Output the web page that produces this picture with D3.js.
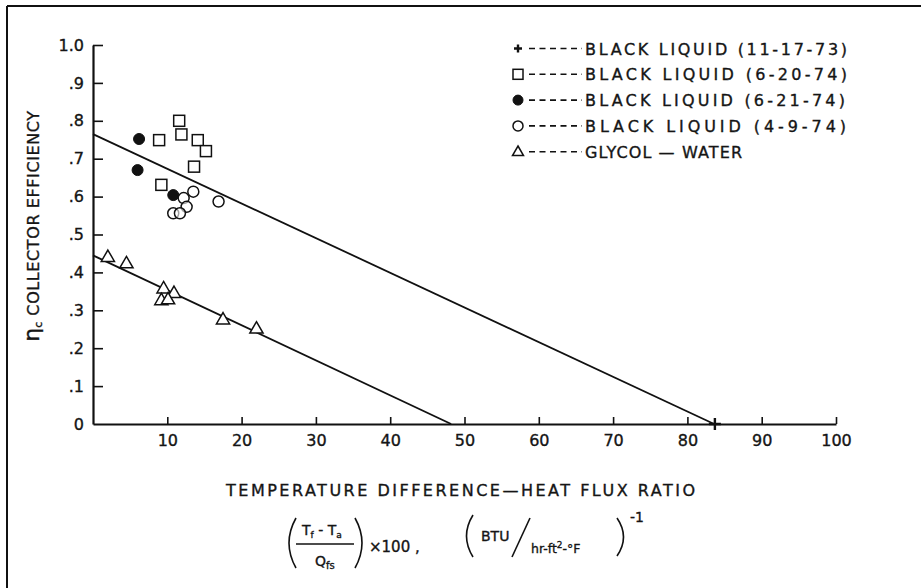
<!DOCTYPE html>
<html>
<head>
<meta charset="utf-8">
<script src="https://cdn.jsdelivr.net/npm/d3@7"></script>
<style>
  html, body { margin: 0; padding: 0; background: #fff; }
  svg { display: block; }
  text { font-family: "DejaVu Sans", "Liberation Sans", Arial, sans-serif; fill: #151515;
         stroke: #151515; stroke-width: 0.35px; }
</style>
</head>
<body>
<div id="chart"></div>
<script>
// Collector efficiency vs. temperature difference / heat flux ratio

// Axis ticks
const xTicks = [0, 10, 20, 30, 40, 50, 60, 70, 80, 90, 100];
const xTickLabels = ["", "10", "20", "30", "40", "50", "60", "70", "80", "90", "100"];
const yTicks = [0, 0.1, 0.2, 0.3, 0.4, 0.5, 0.6, 0.7, 0.8, 0.9, 1.0];
const yTickLabels = ["0", ".1", ".2", ".3", ".4", ".5", ".6", ".7", ".8", ".9", "1.0"];

// Measured points [ratio, efficiency]
const blackLiquid_11_17_73 = [[83.7, 0.0]];
const blackLiquid_6_20_74 = [[11.6, 0.800], [8.9, 0.749], [11.9, 0.764], [14.1, 0.749],
                             [15.2, 0.720], [13.6, 0.679], [9.2, 0.631]];
const blackLiquid_6_21_74 = [[6.2, 0.752], [6.0, 0.670], [10.8, 0.604]];
const blackLiquid_4_9_74 = [[13.5, 0.613], [16.9, 0.587], [12.2, 0.596], [12.6, 0.573],
                            [10.8, 0.556], [11.7, 0.556]];
const glycolWater = [[2.0, 0.441], [4.5, 0.424], [9.5, 0.358], [10.9, 0.346],
                     [9.2, 0.327], [10.1, 0.329], [17.5, 0.276], [22.0, 0.252]];

// Fitted efficiency lines
const blackLiquidFit = [[0, 0.765], [83.6, 0]];
const glycolFit = [[0, 0.445], [48.2, 0]];

// Legend entries
const legendLabels = ["BLACK LIQUID (11-17-73)", "BLACK LIQUID (6-20-74)",
                      "BLACK LIQUID (6-21-74)", "BLACK LIQUID (4-9-74)", "GLYCOL \u2014 WATER"];
const legendSymbols = ["plus", "square", "filled", "circle", "triangle"];
const legendWidths = [262, 262, 260, 261, 157];

const W = 921, H = 588;
const svg = d3.select("#chart").append("svg").attr("width", W).attr("height", H);

const x = d3.scaleLinear().domain([0, 100]).range([93, 836]);
const y = d3.scaleLinear().domain([0, 1]).range([424, 45]);

// page frame
svg.append("line").attr("x1", 7).attr("x2", 7).attr("y1", 6).attr("y2", H)
  .attr("stroke", "#111").attr("stroke-width", 2);
svg.append("line").attr("x1", 7).attr("x2", W).attr("y1", 6).attr("y2", 6)
  .attr("stroke", "#111").attr("stroke-width", 2);

// axes
const xAxis = d3.axisBottom(x).tickValues(xTicks).tickSizeInner(-7).tickSizeOuter(0)
  .tickPadding(11).tickFormat((d, i) => xTickLabels[i]);
const yAxis = d3.axisLeft(y).tickValues(yTicks).tickSizeInner(-10).tickSizeOuter(0)
  .tickPadding(9).tickFormat((d, i) => yTickLabels[i]);

const gx = svg.append("g").attr("transform", `translate(0,${y(0)})`).call(xAxis);
const gy = svg.append("g").attr("transform", `translate(${x(0)},0)`).call(yAxis);
[gx, gy].forEach(g => {
  g.attr("font-family", null).attr("font-size", null);
  g.select(".domain").attr("stroke", "#111").attr("stroke-width", 2.2);
  g.selectAll(".tick line").attr("stroke", "#111").attr("stroke-width", 1.6);
  g.selectAll(".tick text").attr("fill", "#151515").style("font-size", "16px");
});
gx.selectAll(".tick").filter(d => d === 0).select("line").remove();
gy.selectAll(".tick").filter(d => d === 0).select("line").remove();

// fit lines
const line = d3.line().x(d => x(d[0])).y(d => y(d[1]));
[blackLiquidFit, glycolFit].forEach(f => {
  svg.append("path").datum(f).attr("d", line)
    .attr("fill", "none").attr("stroke", "#111").attr("stroke-width", 1.8);
});

// marker drawing
function marker(g, kind, cx, cy, s) {
  if (kind === "plus") {
    g.append("path").attr("d", `M${cx - s},${cy}H${cx + s}M${cx},${cy - s}V${cy + s}`)
      .attr("stroke", "#111").attr("stroke-width", 2.4).attr("fill", "none");
  } else if (kind === "square") {
    g.append("rect").attr("x", cx - s).attr("y", cy - s).attr("width", 2 * s).attr("height", 2 * s)
      .attr("fill", "#fff").attr("stroke", "#111").attr("stroke-width", 1.5);
  } else if (kind === "filled") {
    g.append("circle").attr("cx", cx).attr("cy", cy).attr("r", s)
      .attr("fill", "#111").attr("stroke", "#111").attr("stroke-width", 1);
  } else if (kind === "circle") {
    g.append("circle").attr("cx", cx).attr("cy", cy).attr("r", s)
      .attr("fill", "#fff").attr("fill-opacity", 0.6).attr("stroke", "#111").attr("stroke-width", 1.5);
  } else if (kind === "triangle") {
    const h = s * 1.9;
    g.append("path")
      .attr("d", `M${cx},${cy - h * 0.6}L${cx + s * 1.1},${cy + h * 0.4}L${cx - s * 1.1},${cy + h * 0.4}Z`)
      .attr("fill", "#fff").attr("stroke", "#111").attr("stroke-width", 1.5);
  }
}

const pts = svg.append("g");
const series = [
  [glycolWater, "triangle", 6],
  [blackLiquid_6_20_74, "square", 5.5],
  [blackLiquid_6_21_74, "filled", 5.5],
  [blackLiquid_4_9_74, "circle", 5.5],
  [blackLiquid_11_17_73, "plus", 6]
];
series.forEach(([data, kind, s]) => {
  data.forEach(d => marker(pts, kind, x(d[0]), y(d[1]), s));
});

// legend
const leg = svg.append("g");
legendLabels.forEach((lab, i) => {
  const cy = 48.5 + i * 25.8;
  const sz = legendSymbols[i] === "plus" ? 4 : 5;
  marker(leg, legendSymbols[i], 518, cy, sz);
  leg.append("line").attr("x1", 529).attr("x2", 582).attr("y1", cy).attr("y2", cy)
    .attr("stroke", "#111").attr("stroke-width", 1.6).attr("stroke-dasharray", "6,4.5");
  leg.append("text").attr("x", 585).attr("y", cy + 6)
    .attr("textLength", legendWidths[i]).attr("lengthAdjust", "spacing")
    .style("font-size", "16px").text(lab);
});

// y axis title
const yt = svg.append("text")
  .attr("transform", "translate(39,226) rotate(-90)")
  .attr("text-anchor", "middle").style("font-size", "16px");
yt.append("tspan").style("font-size", "22px").text("\u03b7");
yt.append("tspan").attr("dy", 3).style("font-size", "11px").text("c");
yt.append("tspan").attr("dy", -3).attr("dx", 6).attr("letter-spacing", "0.6px").text("COLLECTOR EFFICIENCY");

// x axis title
svg.append("text").attr("x", 226).attr("y", 496)
  .attr("textLength", 469).attr("lengthAdjust", "spacing")
  .style("font-size", "16px").text("TEMPERATURE DIFFERENCE\u2014HEAT FLUX RATIO");

// units expression
const u = svg.append("g");
const paren = (x0, y0, y1, bulge) => `M${x0},${y0}Q${x0 + bulge},${(y0 + y1) / 2} ${x0},${y1}`;
const stroke = p => p.attr("fill", "none").attr("stroke", "#111").attr("stroke-width", 1.6);
stroke(u.append("path").attr("d", paren(296, 518, 568, -14)));
stroke(u.append("path").attr("d", paren(355, 518, 568, 14)));
stroke(u.append("path").attr("d", paren(473, 515, 557, -13)));
stroke(u.append("path").attr("d", paren(617, 518, 556, 13)));
stroke(u.append("line").attr("x1", 296).attr("x2", 354).attr("y1", 544).attr("y2", 544));
stroke(u.append("line").attr("x1", 512).attr("x2", 530).attr("y1", 557).attr("y2", 518));

const num = u.append("text").attr("x", 302).attr("y", 535).style("font-size", "14px");
num.append("tspan").text("T");
num.append("tspan").attr("dy", 3).style("font-size", "9px").text("f");
num.append("tspan").attr("dy", -3).text(" - T");
num.append("tspan").attr("dy", 3).style("font-size", "9px").text("a");

const den = u.append("text").attr("x", 315).attr("y", 566).style("font-size", "14px");
den.append("tspan").text("Q");
den.append("tspan").attr("dy", 3).style("font-size", "10px").text("fs");

u.append("text").attr("x", 369).attr("y", 552).style("font-size", "15px").text("\u00d7100 ,");

u.append("text").attr("x", 481).attr("y", 541).style("font-size", "14px").text("BTU");
const den2 = u.append("text").attr("x", 531).attr("y", 553).style("font-size", "12.5px");
den2.append("tspan").text("hr-ft");
den2.append("tspan").attr("dy", -5).style("font-size", "9px").text("2");
den2.append("tspan").attr("dy", 5).text("-\u00b0F");
u.append("text").attr("x", 630).attr("y", 522).style("font-size", "14px").text("-1");
</script>
</body>
</html>
